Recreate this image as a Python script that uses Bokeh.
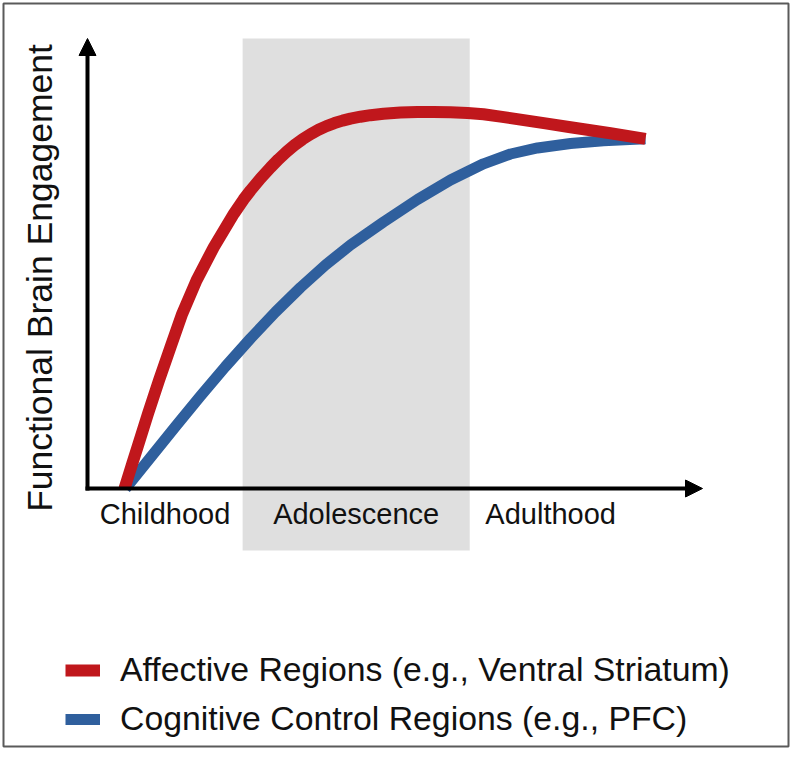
import math
from bokeh.plotting import figure
from bokeh.models import Range1d, Arrow, NormalHead, Legend, LegendItem
from bokeh.core.properties import value
from bokeh.embed import file_html
from bokeh.resources import INLINE

# ---- data (arbitrary units) ----
stage_names = ["Childhood", "Adolescence", "Adulthood"]
stage_edges = [0.0, 2.78, 6.85, 9.75]

affective_x = [0.663, 0.801, 0.896, 1.084, 1.281, 1.487, 1.697, 1.953, 2.263, 2.622,
               2.796, 2.921, 3.100, 3.280, 3.423, 3.566, 3.710, 3.853, 3.996, 4.140,
               4.283, 4.427, 4.570, 4.713, 4.892, 5.072, 5.305, 5.609, 5.914, 6.201,
               6.505, 6.810, 7.097, 7.401, 7.760, 8.208, 8.656, 9.373, 10.0]
affective_y = [0.000, 0.706, 1.180, 2.134, 3.086, 4.037, 4.991, 5.943, 6.894, 7.849,
               8.257, 8.514, 8.857, 9.171, 9.406, 9.617, 9.809, 9.977, 10.123, 10.249,
               10.354, 10.440, 10.511, 10.569, 10.623, 10.666, 10.706, 10.740, 10.757, 10.757,
               10.751, 10.731, 10.691, 10.626, 10.540, 10.431, 10.323, 10.151, 9.991]

cognitive_x = [0.681, 1.129, 1.577, 2.025, 2.473, 2.921, 3.369, 3.817, 4.265, 4.713,
               5.305, 5.914, 6.505, 7.097, 7.581, 8.065, 8.656, 9.247, 10.0]
cognitive_y = [0.000, 0.886, 1.771, 2.643, 3.486, 4.286, 5.043, 5.743, 6.386, 6.957,
               7.614, 8.257, 8.814, 9.277, 9.557, 9.729, 9.857, 9.937, 9.991]

series_labels = ["Affective Regions (e.g., Ventral Striatum)",
                 "Cognitive Control Regions (e.g., PFC)"]
y_label = "Functional Brain Engagement"

# ---- styling / layout ----
RED = "#c0171c"
BLUE = "#2f5f9d"
BAND = "#dfdfdf"
FONT = "Liberation Sans"
TEXT = "#111111"

W, H = 790, 748
BL, BT, BR, BB = 3, 3, 2, 2        # borders around the frame (px)
PX_X, PX_Y = 55.8, 35.0            # pixels per data unit
ORIGIN_X, ORIGIN_Y = 87, 488       # origin position inside figure (px)

x0 = (BL - ORIGIN_X) / PX_X
x1 = (W - BR - ORIGIN_X) / PX_X
y0 = (ORIGIN_Y - (H - BB)) / PX_Y
y1 = (ORIGIN_Y - BT) / PX_Y

p = figure(width=W, height=H, x_range=Range1d(x0, x1), y_range=Range1d(y0, y1),
           output_backend="svg", toolbar_location=None,
           x_axis_location=None, y_axis_location=None,
           min_border_left=BL, min_border_right=BR,
           min_border_top=BT, min_border_bottom=BB)
p.grid.visible = False
p.outline_line_color = "#5a5a5a"
p.outline_line_width = 2
p.background_fill_color = "white"
p.border_fill_color = "white"

band_top = 450 / PX_Y
band_bottom = -62 / PX_Y
p.quad(left=[stage_edges[1]], right=[stage_edges[2]], bottom=[band_bottom], top=[band_top],
       fill_color=BAND, line_color=None)

blue = p.line(cognitive_x, cognitive_y, line_color=BLUE, line_width=11,
              line_join="round", line_cap="butt")
red = p.line(affective_x, affective_y, line_color=RED, line_width=12,
             line_join="round", line_cap="butt")

# axes as arrows
p.add_layout(Arrow(x_start=0, y_start=-2 / PX_Y, x_end=0, y_end=450 / PX_Y,
                   line_width=4, line_color="black",
                   end=NormalHead(size=17, fill_color="black", line_color="black", line_width=1)))
p.add_layout(Arrow(x_start=-2 / PX_X, y_start=0, x_end=615 / PX_X, y_end=0,
                   line_width=4, line_color="black",
                   end=NormalHead(size=17, fill_color="black", line_color="black", line_width=1)))

# stage labels
centers = [(stage_edges[i] + stage_edges[i + 1]) / 2 for i in range(len(stage_names))]
p.text(x=centers, y=[-25 / PX_Y] * len(centers), text=stage_names,
       text_align="center", text_baseline="middle",
       text_font=value(FONT), text_font_size="29px", text_color=TEXT)

# y label
p.text(x=[-47.5 / PX_X], y=[210.5 / PX_Y], text=[y_label], angle=math.pi / 2,
       text_align="center", text_baseline="middle",
       text_font=value(FONT), text_font_size="35.5px", text_color=TEXT)

legend = Legend(items=[LegendItem(label=series_labels[0], renderers=[red]),
                       LegendItem(label=series_labels[1], renderers=[blue])],
                location=(54, 0), orientation="vertical",
                label_text_font=FONT, label_text_font_size="33.8px",
                label_text_color=TEXT,
                glyph_width=35, glyph_height=20, label_standoff=20,
                spacing=10, padding=8, margin=0,
                background_fill_alpha=0, border_line_alpha=0)
p.add_layout(legend, "center")

open("out.html", "w").write(file_html(p, INLINE))
